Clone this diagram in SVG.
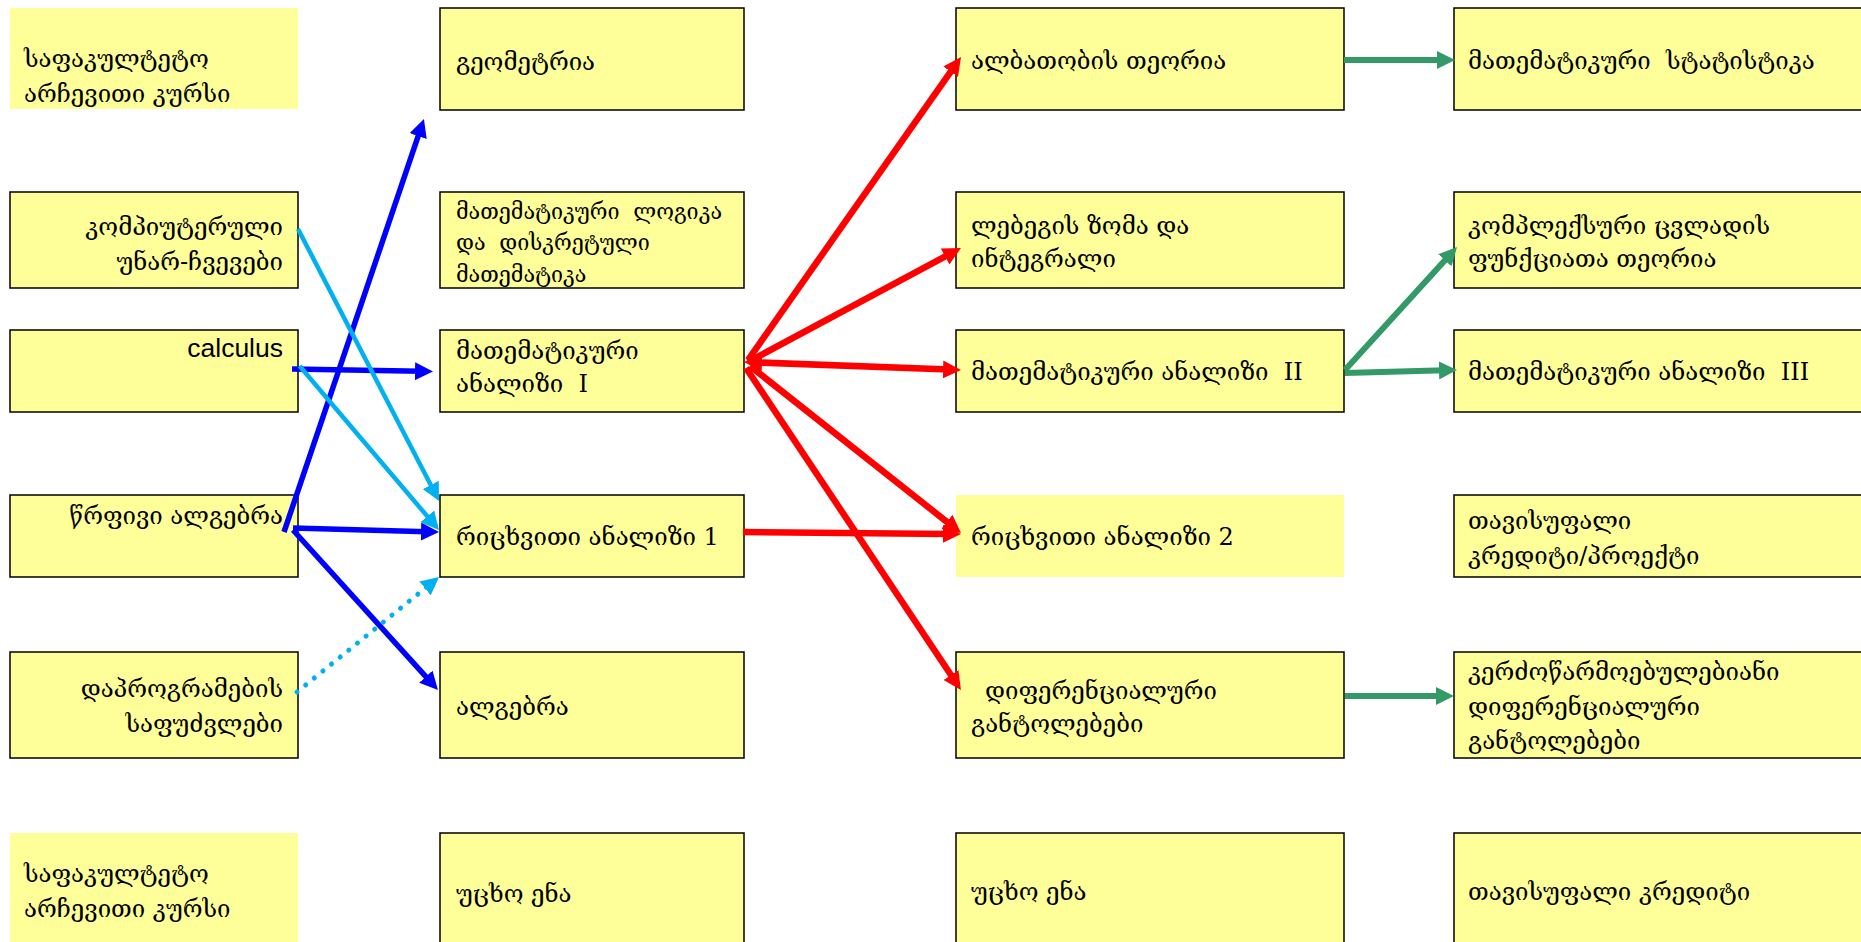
<svg xmlns="http://www.w3.org/2000/svg" width="1861" height="942" viewBox="0 0 1861 942" xml:space="preserve">
<style>
.box{fill:#FFFF99;stroke:#000;stroke-width:1.5}
.nb{fill:#FFFF99;stroke:none}
.t{font-family:"DejaVu Serif","DejaVu Sans",serif;font-size:24px;fill:#000;white-space:pre}
.s{font-size:21.5px}
.e{text-anchor:end}
.lat{font-family:"Liberation Sans",Arial,sans-serif;font-size:26.5px}
.c{fill:none}
.blue{stroke:#0000FF;stroke-width:5.5}
.lb{stroke:#00B0F0;stroke-width:4.5}
.dot{stroke:#00B0F0;stroke-width:5;stroke-linecap:round;stroke-dasharray:0.1 11}
.red{stroke:#FF0000;stroke-width:6.5}
.grn{stroke:#339966;stroke-width:6}
</style>
<defs>
<marker id="mB" markerUnits="userSpaceOnUse" markerWidth="18" markerHeight="18" refX="6" refY="9" orient="auto"><path d="M0,0 L18,9 L0,18 z" fill="#0000FF"/></marker>
<marker id="mL" markerUnits="userSpaceOnUse" markerWidth="18" markerHeight="18" refX="6" refY="9" orient="auto"><path d="M0,0 L18,9 L0,18 z" fill="#00B0F0"/></marker>
<marker id="mR" markerUnits="userSpaceOnUse" markerWidth="18" markerHeight="18" refX="6" refY="9" orient="auto-start-reverse"><path d="M0,0 L18,9 L0,18 z" fill="#FF0000"/></marker>
<marker id="mG" markerUnits="userSpaceOnUse" markerWidth="18" markerHeight="18" refX="6" refY="9" orient="auto"><path d="M0,0 L18,9 L0,18 z" fill="#339966"/></marker>
</defs>
<rect width="1861" height="942" fill="#fff"/>

<g id="n-c1r1"><rect class="nb" x="10" y="8" width="288" height="101"/><text class="t" x="24" y="67">საფაკულტეტო</text><text class="t" x="24" y="102">არჩევითი კურსი</text></g>
<g id="n-c1r2"><rect class="box" x="10" y="192" width="288" height="96"/><text class="t e" x="283" y="235">კომპიუტერული</text><text class="t e" x="283" y="270">უნარ-ჩვევები</text></g>
<g id="n-c1r3"><rect class="box" x="10" y="330" width="288" height="82"/><text class="t e lat" x="283" y="357">calculus</text></g>
<g id="n-c1r4"><rect class="box" x="10" y="495" width="288" height="82"/><text class="t e" x="283" y="524">წრფივი ალგებრა</text></g>
<g id="n-c1r5"><rect class="box" x="10" y="652" width="288" height="106"/><text class="t e" x="283" y="697">დაპროგრამების</text><text class="t e" x="283" y="732">საფუძვლები</text></g>
<g id="n-c1r6"><rect class="nb" x="10" y="833" width="288" height="120"/><text class="t" x="24" y="882">საფაკულტეტო</text><text class="t" x="24" y="917">არჩევითი კურსი</text></g>

<g id="n-c2r1"><rect class="box" x="440" y="8" width="304" height="102"/><text class="t" x="456" y="70">გეომეტრია</text></g>
<g id="n-c2r2"><rect class="box" x="440" y="192" width="304" height="96"/><text class="t s" x="456" y="219">მათემატიკური  ლოგიკა</text><text class="t s" x="456" y="250">და  დისკრეტული</text><text class="t s" x="456" y="282">მათემატიკა</text></g>
<g id="n-c2r3"><rect class="box" x="440" y="330" width="304" height="82"/><text class="t" x="456" y="359">მათემატიკური</text><text class="t" x="456" y="392">ანალიზი  I</text></g>
<g id="n-c2r4"><rect class="box" x="440" y="495" width="304" height="82"/><text class="t" x="456" y="545">რიცხვითი ანალიზი 1</text></g>
<g id="n-c2r5"><rect class="box" x="440" y="652" width="304" height="106"/><text class="t" x="456" y="715">ალგებრა</text></g>
<g id="n-c2r6"><rect class="box" x="440" y="833" width="304" height="120"/><text class="t" x="456" y="902">უცხო ენა</text></g>

<g id="n-c3r1"><rect class="box" x="956" y="8" width="388" height="102"/><text class="t" x="971" y="69">ალბათობის თეორია</text></g>
<g id="n-c3r2"><rect class="box" x="956" y="192" width="388" height="96"/><text class="t" x="971" y="234">ლებეგის ზომა და</text><text class="t" x="971" y="267">ინტეგრალი</text></g>
<g id="n-c3r3"><rect class="box" x="956" y="330" width="388" height="82"/><text class="t" x="971" y="380">მათემატიკური ანალიზი  II</text></g>
<g id="n-c3r4"><rect class="nb" x="956" y="495" width="388" height="82"/><text class="t" x="971" y="545">რიცხვითი ანალიზი 2</text></g>
<g id="n-c3r5"><rect class="box" x="956" y="652" width="388" height="106"/><text class="t" x="985" y="699">დიფერენციალური</text><text class="t" x="971" y="732">განტოლებები</text></g>
<g id="n-c3r6"><rect class="box" x="956" y="833" width="388" height="120"/><text class="t" x="971" y="900">უცხო ენა</text></g>

<g id="n-c4r1"><rect class="box" x="1454" y="8" width="412" height="102"/><text class="t" x="1468" y="69">მათემატიკური  სტატისტიკა</text></g>
<g id="n-c4r2"><rect class="box" x="1454" y="192" width="412" height="96"/><text class="t" x="1468" y="234">კომპლექსური ცვლადის</text><text class="t" x="1468" y="267">ფუნქციათა თეორია</text></g>
<g id="n-c4r3"><rect class="box" x="1454" y="330" width="412" height="82"/><text class="t" x="1468" y="380">მათემატიკური ანალიზი  III</text></g>
<g id="n-c4r4"><rect class="box" x="1454" y="495" width="412" height="82"/><text class="t" x="1468" y="529">თავისუფალი</text><text class="t" x="1468" y="564">კრედიტი/პროექტი</text></g>
<g id="n-c4r5"><rect class="box" x="1454" y="652" width="412" height="106"/><text class="t" x="1468" y="680">კერძოწარმოებულებიანი</text><text class="t" x="1468" y="715">დიფერენციალური</text><text class="t" x="1468" y="749">განტოლებები</text></g>
<g id="n-c4r6"><rect class="box" x="1454" y="833" width="412" height="120"/><text class="t" x="1468" y="900">თავისუფალი კრედიტი</text></g>

<g id="connectors" class="c">
<line class="blue" x1="284" y1="532" x2="420.1" y2="130.4" marker-end="url(#mB)"/>
<line class="blue" x1="292" y1="369" x2="421" y2="371.3" marker-end="url(#mB)"/>
<line class="blue" x1="293" y1="528" x2="427" y2="531.7" marker-end="url(#mB)"/>
<line class="blue" x1="293" y1="530" x2="429.9" y2="681.1" marker-end="url(#mB)"/>
<line class="lb" x1="298" y1="229" x2="433.5" y2="490.3" marker-end="url(#mL)"/>
<line class="lb" x1="299.6" y1="366" x2="431.2" y2="520.9" marker-end="url(#mL)"/>
<line class="dot" x1="297" y1="692" x2="429.7" y2="584.6" marker-end="url(#mL)"/>
<line class="red" x1="748" y1="360" x2="954.1" y2="66.8" marker-end="url(#mR)"/>
<line class="red" x1="748" y1="362" x2="950.4" y2="253.7" marker-end="url(#mR)"/>
<line class="red" x1="756" y1="362.4" x2="949" y2="369.6" marker-start="url(#mR)" marker-end="url(#mR)"/>
<line class="red" x1="750" y1="366" x2="951.6" y2="525.6" marker-end="url(#mR)"/>
<line class="red" x1="746" y1="368" x2="954.3" y2="680" marker-end="url(#mR)"/>
<line class="red" x1="743" y1="532" x2="949" y2="533.9" marker-end="url(#mR)"/>
<line class="grn" x1="1344" y1="60" x2="1443" y2="60" marker-end="url(#mG)"/>
<line class="grn" x1="1345" y1="370" x2="1448.9" y2="255.9" marker-end="url(#mG)"/>
<line class="grn" x1="1345" y1="373" x2="1445" y2="370.3" marker-end="url(#mG)"/>
<line class="grn" x1="1345" y1="696" x2="1442" y2="696" marker-end="url(#mG)"/>
</g>
</svg>
